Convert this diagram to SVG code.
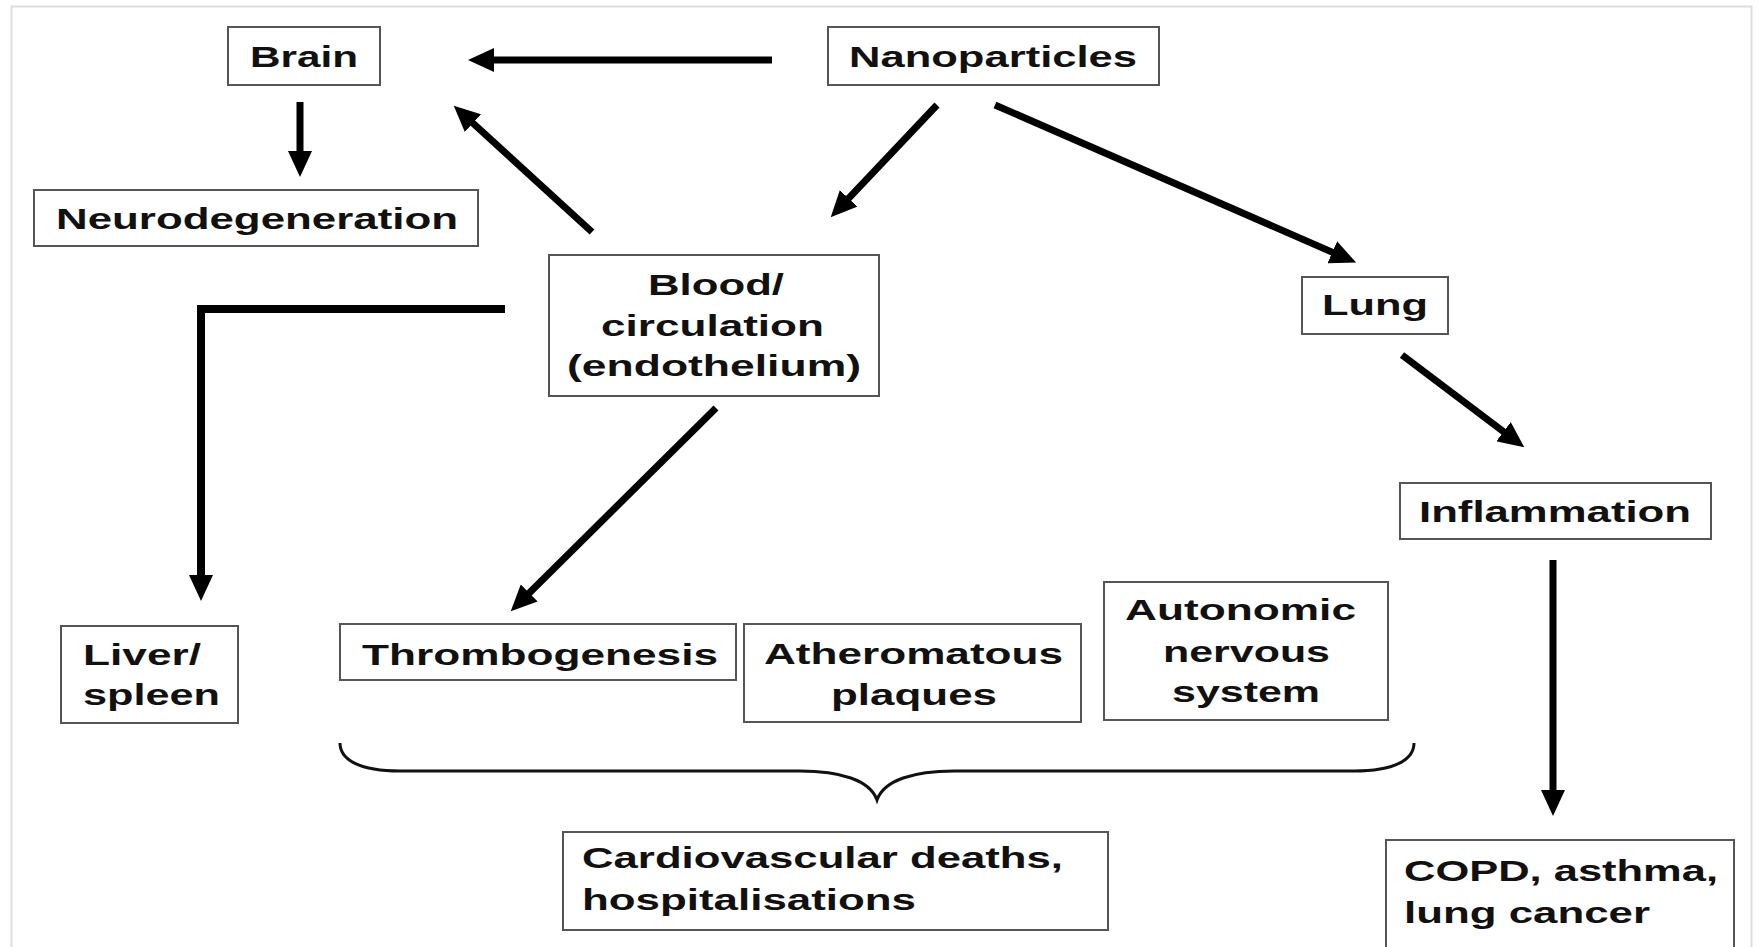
<svg xmlns="http://www.w3.org/2000/svg" width="1763" height="947" viewBox="0 0 1763 947">
<style>
  .box { fill: #ffffff; stroke: #555555; stroke-width: 2; }
  .t { font-family: "Liberation Sans", Arial, sans-serif; font-weight: bold; font-size: 30px; fill: #111111; }
  .conn { stroke: #000000; stroke-width: 7; fill: none; }
  .brace { stroke: #111111; stroke-width: 3; fill: none; }
</style>
<defs>
  <marker id="ah" markerUnits="userSpaceOnUse" viewBox="0 0 26 24" markerWidth="26" markerHeight="24" refX="1" refY="12" orient="auto">
    <path d="M0,0 L26,12 L0,24 z" fill="#000000"/>
  </marker>
</defs>
<rect x="0" y="0" width="1763" height="947" fill="#ffffff"/>
<rect x="11.5" y="6.5" width="1740" height="960" fill="#ffffff" stroke="#dddddd" stroke-width="2"/>

<g id="connectors">
  <line class="conn" x1="772" y1="60" x2="493" y2="60" marker-end="url(#ah)"/>
  <line class="conn" x1="300" y1="102" x2="300" y2="152" marker-end="url(#ah)"/>
  <line class="conn" x1="592" y1="232" x2="472.2" y2="122.5" marker-end="url(#ah)"/>
  <line class="conn" x1="937" y1="105" x2="847.9" y2="199.1" marker-end="url(#ah)"/>
  <line class="conn" x1="995" y1="105" x2="1333.2" y2="252.6" marker-end="url(#ah)"/>
  <line class="conn" x1="1402" y1="355" x2="1504.3" y2="432.3" marker-end="url(#ah)"/>
  <path class="conn" style="stroke-width:8" d="M505,309 L201,309 L201,576" marker-end="url(#ah)"/>
  <line class="conn" x1="716" y1="408" x2="528.5" y2="593.7" marker-end="url(#ah)"/>
  <line class="conn" x1="1553" y1="560" x2="1553" y2="791" marker-end="url(#ah)"/>
  <path class="brace" d="M340,743 C340,760 360,771 400,771 L800,771 C840,771 870,780 877,800 C884,780 914,771 954,771 L1354,771 C1394,771 1414,760 1414,743"/>
</g>

<g id="brain">
  <rect class="box" x="228" y="27" width="152" height="58"/>
  <text class="t" x="250" y="67" textLength="108" lengthAdjust="spacingAndGlyphs">Brain</text>
</g>
<g id="nanoparticles">
  <rect class="box" x="828" y="27" width="331" height="58"/>
  <text class="t" x="849" y="67" textLength="288" lengthAdjust="spacingAndGlyphs">Nanoparticles</text>
</g>
<g id="neurodegeneration">
  <rect class="box" x="34" y="190" width="444" height="56"/>
  <text class="t" x="56" y="229" textLength="402" lengthAdjust="spacingAndGlyphs">Neurodegeneration</text>
</g>
<g id="blood">
  <rect class="box" x="549" y="255" width="330" height="141"/>
  <text class="t" x="648" y="295" textLength="136" lengthAdjust="spacingAndGlyphs">Blood/</text>
  <text class="t" x="601" y="336" textLength="223" lengthAdjust="spacingAndGlyphs">circulation</text>
  <text class="t" x="567" y="376" textLength="294" lengthAdjust="spacingAndGlyphs">(endothelium)</text>
</g>
<g id="lung">
  <rect class="box" x="1302" y="277" width="146" height="57"/>
  <text class="t" x="1322" y="315" textLength="106" lengthAdjust="spacingAndGlyphs">Lung</text>
</g>
<g id="inflammation">
  <rect class="box" x="1400" y="483" width="311" height="56"/>
  <text class="t" x="1419" y="522" textLength="272" lengthAdjust="spacingAndGlyphs">Inflammation</text>
</g>
<g id="liver">
  <rect class="box" x="61" y="626" width="177" height="97"/>
  <text class="t" x="83" y="665" textLength="118" lengthAdjust="spacingAndGlyphs">Liver/</text>
  <text class="t" x="83" y="705" textLength="137" lengthAdjust="spacingAndGlyphs">spleen</text>
</g>
<g id="thrombogenesis">
  <rect class="box" x="340" y="624" width="396" height="56"/>
  <text class="t" x="362" y="665" textLength="356" lengthAdjust="spacingAndGlyphs">Thrombogenesis</text>
</g>
<g id="atheromatous">
  <rect class="box" x="744" y="624" width="337" height="98"/>
  <text class="t" x="764" y="664" textLength="299" lengthAdjust="spacingAndGlyphs">Atheromatous</text>
  <text class="t" x="831" y="705" textLength="166" lengthAdjust="spacingAndGlyphs">plaques</text>
</g>
<g id="autonomic">
  <rect class="box" x="1104" y="582" width="284" height="138"/>
  <text class="t" x="1125" y="620" textLength="231" lengthAdjust="spacingAndGlyphs">Autonomic</text>
  <text class="t" x="1163" y="662" textLength="167" lengthAdjust="spacingAndGlyphs">nervous</text>
  <text class="t" x="1172" y="702" textLength="148" lengthAdjust="spacingAndGlyphs">system</text>
</g>
<g id="cardiovascular">
  <rect class="box" x="563" y="832" width="545" height="98"/>
  <text class="t" x="582" y="868" textLength="481" lengthAdjust="spacingAndGlyphs">Cardiovascular deaths,</text>
  <text class="t" x="582" y="910" textLength="334" lengthAdjust="spacingAndGlyphs">hospitalisations</text>
</g>
<g id="copd">
  <rect class="box" x="1386" y="840" width="348" height="130"/>
  <text class="t" x="1404" y="881" textLength="314" lengthAdjust="spacingAndGlyphs">COPD, asthma,</text>
  <text class="t" x="1404" y="923" textLength="246" lengthAdjust="spacingAndGlyphs">lung cancer</text>
</g>
</svg>
